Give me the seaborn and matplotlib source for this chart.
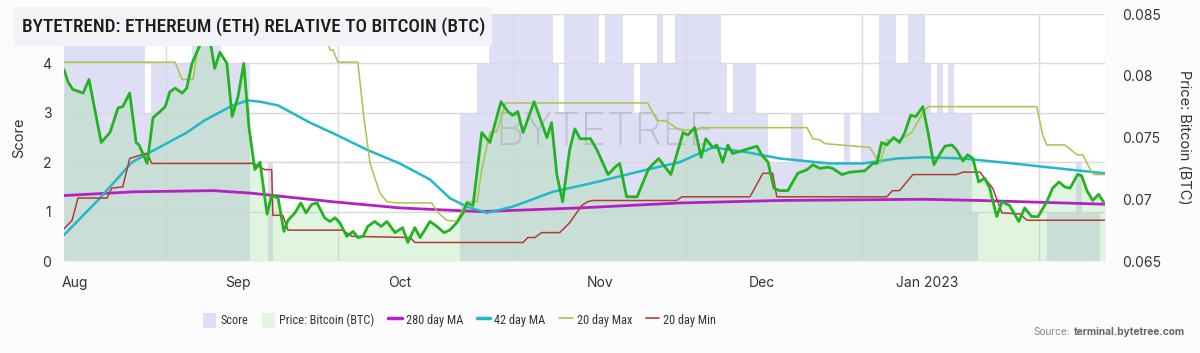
import matplotlib
matplotlib.use("Agg")
import matplotlib.pyplot as plt
import seaborn as sns
from matplotlib import font_manager
from matplotlib.font_manager import FontProperties
from matplotlib.patches import Patch, Rectangle
from matplotlib.lines import Line2D

# x values are days since 1 Aug 2022 (day 0)

# ByteTrend score, one bar per day
score = [
    5, 5, 5, 5, 5, 5, 5, 5, 5, 5, 5, 5, 5, 5,
    3,
    4, 4, 4, 4, 4, 4, 4,
    5, 5, 5, 5, 5,
    4, 4, 4, 4, 4,
    0, 0, 0,
    2,
    0, 0, 0, 0, 0, 0, 0, 0, 0, 0, 0, 0, 0, 0, 0, 0,
    0, 0, 0, 0, 0, 0, 0, 0, 0, 0, 0, 0, 0, 0, 0, 0,
    3, 3, 3,
    4, 4,
    5, 5, 5, 5, 5, 5, 5, 5, 5, 5, 5,
    4, 3,
    5, 5, 5, 5, 5, 5,
    4,
    5, 5, 5,
    4, 4, 3,
    4, 4, 4,
    5,
    4, 4,
    5, 5, 5, 5, 5, 5, 5, 5,
    4, 3, 4,
    4, 4, 4,
    3, 3,
    2, 2, 2, 2,
    3, 3,
    2, 2, 2, 2, 2, 2, 2,
    3,
    2, 2,
    3, 3, 3,
    5, 5, 5,
    4, 4,
    5, 5, 5,
    4, 3, 4, 3, 4,
    3, 3, 3,
    1,
    0, 0, 0, 0, 0, 0, 0, 0, 0, 0, 0, 0,
    1, 1, 1, 1, 1,
    2,
    1, 1, 1,
    0,
]

# ETH price in BTC
price_day = [0.0, 0.7, 1.5, 3.3, 4.3, 6.4, 7.9, 9.3, 10.1, 11.3, 12.4, 12.9, 14.3,
             15.3, 16.5, 17.4, 18.2, 19.1, 20.3, 21.1, 22.0, 23.4, 24.5, 25.3, 25.9,
             26.8, 28.0, 28.9, 29.9, 30.9, 31.8, 32.8, 33.7, 34.9, 35.7, 36.8, 37.8,
             38.5, 39.7, 40.7, 41.6, 42.6, 43.5, 44.8, 45.7, 46.6, 47.4, 48.6, 49.7,
             50.5, 51.4, 52.2, 53.4, 54.5, 55.5, 56.9, 58.2, 59.1, 60.3, 61.2, 62.9,
             64.1, 65.3, 66.3, 67.5, 68.6, 69.2, 70.3, 71.8, 73.2, 75.1, 76.3, 77.1,
             78.0, 78.9, 80.8, 83.0, 83.8, 84.7, 85.7, 86.9, 87.8, 88.7, 90.5, 91.6,
             93.5, 94.7, 95.5, 96.7, 98.5, 100.5, 102.2, 104.3, 106.4, 107.2, 108.4,
             109.5, 110.3, 111.5, 112.2, 113.2, 114.1, 114.9, 117.0, 119.1, 119.9,
             121.0, 122.0, 123.0, 124.4, 126.1, 127.7, 128.7, 129.9, 131.3, 132.1,
             133.7, 135.1, 137.6, 139.0, 139.7, 140.5, 141.4, 142.6, 143.6, 144.5,
             145.5, 146.4, 147.6, 148.5, 149.5, 150.2, 151.4, 152.6, 153.4, 154.5,
             155.3, 156.2, 157.2, 158.2, 159.1, 160.3, 161.2, 162.5, 164.1, 165.1,
             166.3, 167.4, 168.9, 169.9, 171.0, 172.0, 172.9, 174.2, 174.9, 175.8,
             176.8, 177.8, 178.9]
price = [0.0805, 0.0795, 0.0789, 0.0786, 0.0797, 0.0746, 0.0754, 0.0774, 0.0775, 0.0786,
         0.0746, 0.0744, 0.0729, 0.0766, 0.0771, 0.0775, 0.0787, 0.0790, 0.0786, 0.0790,
         0.0810, 0.0825, 0.0837, 0.0823, 0.0806, 0.0819, 0.0810, 0.0767, 0.0783, 0.0810,
         0.0758, 0.0724, 0.0730, 0.0688, 0.0703, 0.0701, 0.0674, 0.0683, 0.0689, 0.0697,
         0.0689, 0.0696, 0.0697, 0.0685, 0.0682, 0.0685, 0.0681, 0.0670, 0.0674, 0.0669,
         0.0670, 0.0678, 0.0682, 0.0678, 0.0682, 0.0673, 0.0677, 0.0665, 0.0677, 0.0669,
         0.0682, 0.0678, 0.0673, 0.0675, 0.0681, 0.0689, 0.0697, 0.0695, 0.0754, 0.0746,
         0.0779, 0.0771, 0.0768, 0.0771, 0.0754, 0.0779, 0.0750, 0.0762, 0.0720, 0.0698,
         0.0740, 0.0757, 0.0749, 0.0749, 0.0740, 0.0720, 0.0726, 0.0729, 0.0702, 0.0702,
         0.0725, 0.0733, 0.0720, 0.0754, 0.0752, 0.0758, 0.0734, 0.0749, 0.0742, 0.0744,
         0.0730, 0.0744, 0.0737, 0.0740, 0.0743, 0.0736, 0.0730, 0.0709, 0.0707, 0.0707,
         0.0721, 0.0724, 0.0728, 0.0725, 0.0726, 0.0725, 0.0720, 0.0722, 0.0723, 0.0729,
         0.0729, 0.0746, 0.0744, 0.0750, 0.0746, 0.0754, 0.0768, 0.0767, 0.0775, 0.0754,
         0.0728, 0.0734, 0.0743, 0.0744, 0.0740, 0.0731, 0.0736, 0.0733, 0.0714, 0.0717,
         0.0709, 0.0686, 0.0698, 0.0695, 0.0682, 0.0693, 0.0686, 0.0686, 0.0698, 0.0709,
         0.0714, 0.0710, 0.0709, 0.0720, 0.0719, 0.0707, 0.0699, 0.0704, 0.0696]

ma280_day = [0.0, 11.9, 25.6, 32.0, 46.2, 57.7, 71.5, 88.7, 105.8, 123.0, 147.6, 157.4, 178.9]
ma280 = [0.0703, 0.0706, 0.0707, 0.0705, 0.0698, 0.0693, 0.0690, 0.0693, 0.0697, 0.0699,
         0.0700, 0.0699, 0.0696]

ma42_day = [0.0, 6.2, 11.7, 14.4, 21.1, 24.2, 29.0, 31.6, 33.7, 36.8, 42.3, 46.9, 52.1,
            57.7, 62.9, 66.3, 69.2, 72.7, 77.1, 84.0, 91.6, 100.2, 105.8, 111.5, 117.4,
            123.0, 131.6, 137.3, 143.1, 147.6, 154.5, 163.1, 168.9, 178.9]
ma42 = [0.0671, 0.0701, 0.0730, 0.0737, 0.0754, 0.0764, 0.0776, 0.0780, 0.0779, 0.0776,
        0.0762, 0.0752, 0.0740, 0.0729, 0.0716, 0.0701, 0.0694, 0.0689, 0.0694, 0.0706,
        0.0714, 0.0724, 0.0730, 0.0742, 0.0738, 0.0733, 0.0729, 0.0729, 0.0733, 0.0734,
        0.0733, 0.0729, 0.0726, 0.0721]

max20_day = [0.0, 19.1, 20.3, 22.2, 23.0, 24.5, 45.0, 45.7, 46.2, 47.1, 50.5, 51.5, 52.6,
             54.3, 55.5, 57.2, 63.2, 64.3, 65.8, 67.5, 69.2, 71.0, 71.8, 73.2, 74.4, 75.9,
             100.3, 101.9, 103.6, 105.8, 108.8, 109.3, 127.7, 128.7, 129.9, 130.8, 138.5,
             140.2, 141.4, 143.6, 145.7, 147.6, 148.5, 167.2, 168.2, 168.9, 172.0, 174.1,
             175.1, 176.6, 177.1, 178.9]
max20 = [0.0811, 0.0811, 0.0797, 0.0797, 0.0823, 0.0837, 0.0837, 0.0821, 0.0821, 0.0811,
         0.0811, 0.0768, 0.0729, 0.0705, 0.0698, 0.0697, 0.0697, 0.0689, 0.0683, 0.0682,
         0.0698, 0.0698, 0.0724, 0.0754, 0.0755, 0.0778, 0.0778, 0.0764, 0.0763, 0.0756,
         0.0756, 0.0758, 0.0758, 0.0749, 0.0748, 0.0745, 0.0742, 0.0729, 0.0748, 0.0748,
         0.0754, 0.0770, 0.0775, 0.0775, 0.0752, 0.0744, 0.0744, 0.0736, 0.0736, 0.0722,
         0.0720, 0.0720]

min20_day = [0.0, 1.4, 2.4, 7.4, 8.2, 10.1, 11.3, 13.9, 14.3, 15.1, 32.5, 34.5, 35.7, 35.9,
             37.6, 38.5, 47.9, 49.5, 59.5, 60.3, 78.9, 79.7, 80.9, 82.1, 85.2, 86.9, 88.1,
             89.0, 90.0, 90.9, 105.3, 106.2, 117.9, 120.1, 121.8, 122.5, 141.4, 142.4,
             143.6, 145.9, 153.4, 154.5, 157.4, 159.6, 161.2, 164.3, 165.5, 178.9]
min20 = [0.0676, 0.0683, 0.0701, 0.0701, 0.0709, 0.0710, 0.0733, 0.0737, 0.0737, 0.0729,
         0.0729, 0.0724, 0.0724, 0.0687, 0.0687, 0.0675, 0.0675, 0.0670, 0.0669, 0.0665,
         0.0665, 0.0669, 0.0669, 0.0673, 0.0673, 0.0681, 0.0689, 0.0695, 0.0698, 0.0699,
         0.0699, 0.0702, 0.0702, 0.0721, 0.0721, 0.0702, 0.0702, 0.0707, 0.0707, 0.0720,
         0.0720, 0.0722, 0.0722, 0.0709, 0.0689, 0.0688, 0.0683, 0.0683]

month_labels = ["Aug", "Sep", "Oct", "Nov", "Dec", "Jan 2023"]
month_pos = [1.9, 29.9, 57.7, 92.1, 119.9, 148.3]
grid_pos = [17.5, 47.1, 77.3, 106.9, 137.1, 167.5]
score_ticks = [0, 1, 2, 3, 4, 5]
score_tick_labels = ["0", "1", "2", "3", "4", ""]  # the 5 sits under the title box
price_ticks = [0.065, 0.07, 0.075, 0.08, 0.085]
price_tick_labels = ["0.065", "0.07", "0.075", "0.08", "0.085"]

TITLE = "BYTETREND: ETHEREUM (ETH) RELATIVE TO BITCOIN (BTC)"
legend_labels = ["Score", "Price: Bitcoin (BTC)", "280 day MA", "42 day MA", "20 day Max", "20 day Min"]

SCORE_C = "#dedef5"
FILL_C = (158 / 255, 223 / 255, 152 / 255)
PRICE_C = "#22b322"
MA280_C = "#b51fc4"
MA42_C = "#22b8c8"
MAX_C = "#a9c44c"
MIN_C = "#b33a3a"
TEXT_C = "#333333"

sns.set_theme(style="white")
plt.rcParams["font.family"] = ["Inter", "DejaVu Sans"]


def narrow_font(weight="normal"):
    # pick a condensed face if one is installed, else Roboto (narrowest of the rest)
    ttf = font_manager.fontManager.ttflist
    names = {f.name for f in ttf}
    for n in ["Liberation Sans Narrow", "Roboto Condensed", "Open Sans Condensed", "Noto Sans Condensed"]:
        if n in names:
            return FontProperties(family=n, weight=weight)
    if any(f.name == "DejaVu Sans" and f.stretch == "condensed" for f in ttf):
        return FontProperties(family="DejaVu Sans", stretch="condensed", weight=weight)
    return FontProperties(family=["Roboto", "DejaVu Sans"], weight=weight)


def fit_size(fig, text, prop, width_px, max_size):
    renderer = fig.canvas.get_renderer()
    p = prop.copy()
    p.set_size(10)
    t = fig.text(0, 0, text, fontproperties=p)
    w = t.get_window_extent(renderer).width
    t.remove()
    return min(max_size, 10 * width_px / w)


fig = plt.figure(figsize=(12, 3.53), dpi=100)
fig.patch.set_facecolor("#fcfcfd")
ax = fig.add_axes([0.0533, 0.2606, 0.8675, 0.6997])
ax.set_facecolor("white")

# score bars on the left axis
ax.bar(range(len(score)), score, width=1.0, align="edge", color=SCORE_C, linewidth=0, zorder=1)
ax.set_xlim(0, 178.9)
ax.set_ylim(0, 5)
ax.set_yticks(score_ticks)
ax.set_yticklabels(score_tick_labels)
ax.set_xticks(month_pos)
ax.set_xticklabels(month_labels)
ax.set_xticks(grid_pos, minor=True)
ax.set_axisbelow(False)
ax.grid(axis="y", which="major", color="#d9d9df", linewidth=1)
ax.grid(axis="x", which="minor", color="#d9d9df", linewidth=1)
ax.grid(axis="x", which="major", visible=False)
ax.tick_params(axis="both", which="both", length=0, labelsize=10, colors=TEXT_C)
ax.tick_params(axis="y", pad=9)
ax.tick_params(axis="x", pad=11)
ax.set_ylabel("Score", fontsize=10.5, color=TEXT_C, labelpad=12)
for s in ax.spines.values():
    s.set_visible(False)

# price and moving averages on the right axis
ax2 = ax.twinx()
ax2.fill_between(price_day, 0.065, price, color=FILL_C, alpha=0.31, linewidth=0, zorder=1)
sns.lineplot(x=ma280_day, y=ma280, ax=ax2, color=MA280_C, linewidth=2, sort=False, estimator=None, legend=False)
sns.lineplot(x=ma42_day, y=ma42, ax=ax2, color=MA42_C, linewidth=1.8, sort=False, estimator=None, legend=False)
sns.lineplot(x=max20_day, y=max20, ax=ax2, color=MAX_C, linewidth=1.1, sort=False, estimator=None, legend=False)
sns.lineplot(x=min20_day, y=min20, ax=ax2, color=MIN_C, linewidth=1.1, sort=False, estimator=None, legend=False)
sns.lineplot(x=price_day, y=price, ax=ax2, color=PRICE_C, linewidth=2, sort=False, estimator=None, legend=False)
ax2.set_ylim(0.065, 0.085)
ax2.set_yticks(price_ticks)
ax2.set_yticklabels(price_tick_labels)
ax2.tick_params(axis="y", length=0, labelsize=10, colors=TEXT_C, pad=12)
ax2.set_ylabel("Price: Bitcoin (BTC)", fontsize=10.5, color=TEXT_C, rotation=270, labelpad=22)
for s in ax2.spines.values():
    s.set_visible(False)

ax2.text(0.52, 0.52, "BYTETREE", transform=ax2.transAxes, ha="center", va="center",
         fontsize=32, color="#9a9aa2", alpha=0.42, zorder=1.5, fontweight="light")

# title box
fig.patches.append(Rectangle((14 / 1200, 1 - 46 / 353), 478 / 1200, 39 / 353,
                             transform=fig.transFigure, facecolor="#f2f3f7", edgecolor="none", zorder=5))
title_prop = narrow_font("medium")
title_prop.set_size(fit_size(fig, TITLE, title_prop, 462, 17.5))
fig.text(22 / 1200, 1 - 27 / 353, TITLE, ha="left", va="center", color="#1c1c1c", zorder=6,
         fontproperties=title_prop)

handles = [
    Patch(facecolor=SCORE_C, edgecolor="none"),
    Patch(facecolor="#e1f5df", edgecolor="none"),
    Line2D([], [], color=MA280_C, linewidth=2.5),
    Line2D([], [], color=MA42_C, linewidth=2.5),
    Line2D([], [], color=MAX_C, linewidth=1.2),
    Line2D([], [], color=MIN_C, linewidth=1.2),
]
leg_prop = narrow_font("normal")
leg_prop.set_size(fit_size(fig, "Price: Bitcoin (BTC)", leg_prop, 94, 9.5))
fig.legend(handles, legend_labels, loc="center", bbox_to_anchor=(0.383, 0.093), ncol=6, frameon=False,
           prop=leg_prop, handlelength=1.1, handleheight=1.5, handletextpad=0.35, columnspacing=1.1,
           labelcolor=TEXT_C)

# source note, bold domain right-aligned, plain prefix before it
renderer = fig.canvas.get_renderer()
src = fig.text(1185 / 1200, 1 - 332 / 353, "terminal.bytetree.com", ha="right", va="center",
               fontsize=7.3, color="#666666", fontweight="bold")
left_px = src.get_window_extent(renderer).x0
fig.text((left_px - 4) / 1200, 1 - 332 / 353, "Source:", ha="right", va="center",
         fontsize=7.3, color="#8a8a8a")

fig.savefig("out.png", dpi=100, facecolor=fig.get_facecolor())
